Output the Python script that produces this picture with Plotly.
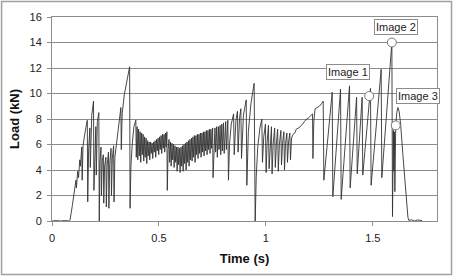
import plotly.graph_objects as go

# ---- data ----
time_s = [
    0, 0.02, 0.04, 0.06, 0.08, 0.084,
    0.095, 0.105, 0.112, 0.114, 0.12, 0.124, 0.13, 0.133, 0.139, 0.141, 0.145, 0.155, 0.165, 0.167,
    0.171, 0.177, 0.179, 0.186, 0.194, 0.196, 0.2, 0.205, 0.207, 0.212, 0.219, 0.221,
    0.224, 0.229, 0.231, 0.235, 0.24, 0.242, 0.246, 0.252, 0.254, 0.258, 0.264, 0.266, 0.27, 0.276,
    0.278, 0.282, 0.288, 0.29, 0.294, 0.305, 0.315, 0.322, 0.324, 0.328, 0.338, 0.35, 0.363, 0.365, 0.369,
    0.375, 0.383, 0.392, 0.394, 0.398, 0.401, 0.405, 0.408, 0.412, 0.415, 0.419, 0.422, 0.426, 0.429,
    0.433, 0.436, 0.44, 0.443, 0.447, 0.45, 0.454, 0.457, 0.461, 0.464, 0.468, 0.471, 0.475, 0.478,
    0.482, 0.485, 0.489, 0.492, 0.496, 0.499, 0.503, 0.506, 0.51, 0.513, 0.517, 0.52, 0.524, 0.527,
    0.531, 0.534, 0.537, 0.539,
    0.543, 0.547, 0.55, 0.554, 0.557, 0.561, 0.564, 0.568, 0.571, 0.575, 0.578, 0.582, 0.585, 0.589,
    0.592, 0.596, 0.599, 0.603, 0.606, 0.61, 0.613, 0.617, 0.62, 0.624, 0.627, 0.631, 0.634, 0.638,
    0.641, 0.645, 0.648,
    0.652, 0.655, 0.659, 0.662, 0.666, 0.669, 0.673, 0.676, 0.68, 0.683, 0.687, 0.69, 0.694, 0.697,
    0.701, 0.704, 0.708, 0.711, 0.715, 0.718, 0.722, 0.725, 0.729, 0.732, 0.736, 0.739, 0.743, 0.746,
    0.751, 0.753, 0.757, 0.762, 0.765, 0.77, 0.773, 0.778, 0.781, 0.786, 0.789, 0.794, 0.797, 0.802,
    0.805, 0.812, 0.815, 0.822, 0.825,
    0.83, 0.838, 0.849, 0.852, 0.86, 0.867, 0.87, 0.877, 0.883, 0.886, 0.895, 0.908, 0.911, 0.918,
    0.93, 0.945, 0.95,
    0.955, 0.962, 0.972, 0.981, 0.984, 0.99, 0.998, 1.001, 1.006, 1.012, 1.015, 1.02, 1.026, 1.029,
    1.034, 1.041, 1.044, 1.049, 1.055, 1.058, 1.063, 1.07, 1.073, 1.078, 1.084, 1.087, 1.092, 1.098,
    1.101, 1.106, 1.112, 1.115, 1.12, 1.127,
    1.135, 1.142, 1.15, 1.158, 1.165, 1.172, 1.18, 1.19, 1.2, 1.212, 1.218, 1.22, 1.224, 1.23, 1.24,
    1.25, 1.26, 1.268, 1.271,
    1.31, 1.313, 1.349, 1.352, 1.391, 1.394, 1.424, 1.427, 1.45, 1.453, 1.483, 1.489, 1.492,
    1.539, 1.542, 1.589, 1.592, 1.596, 1.598, 1.601, 1.603, 1.607, 1.612, 1.617, 1.623, 1.63, 1.64,
    1.65, 1.658, 1.664, 1.668, 1.68, 1.695, 1.71, 1.73,
]
load_kn = [
    0, 0.03, 0, 0.03, 0, 0.05,
    1.2, 2.3, 3.2, 2.6, 3.9, 3.4, 4.8, 4.3, 5.8, 3.2, 5.9, 7.0, 7.9, 1.5,
    5.5, 7.3, 4.2, 8.3, 9.4, 2.4, 5.8, 7.4, 3.6, 7.8, 8.5, 0.0,
    4.6, 5.8, 2.0, 4.7, 5.2, 1.4, 4.3, 5.0, 1.1, 4.4, 5.4, 1.0, 4.5, 5.7,
    2.0, 4.9, 5.9, 1.5, 5.0, 6.5, 7.9, 8.9, 5.6, 8.4, 9.9, 11.0, 12.1, 1.0, 4.3,
    6.0, 7.4, 7.9, 5.0, 7.4, 4.8, 7.2, 5.1, 7.0, 4.6, 6.9, 5.2, 6.8, 4.7,
    6.6, 5.0, 6.5, 4.5, 6.3, 5.1, 6.2, 4.8, 6.2, 5.3, 6.1, 4.9, 6.2, 5.4,
    6.3, 5.0, 6.4, 5.5, 6.5, 5.2, 6.6, 5.6, 6.7, 5.3, 6.8, 5.7, 6.8, 5.4,
    6.9, 5.8, 7.0, 2.4,
    5.6, 6.4, 4.6, 6.2, 4.3, 6.1, 4.8, 6.0, 4.2, 5.9, 4.6, 5.8, 3.9, 5.8,
    4.4, 5.7, 3.8, 5.8, 4.3, 5.9, 3.9, 6.0, 4.5, 6.1, 4.0, 6.2, 4.6, 6.3,
    4.3, 6.4, 4.8,
    6.5, 4.7, 6.6, 5.0, 6.7, 4.6, 6.7, 5.2, 6.8, 4.9, 6.8, 5.3, 6.9, 5.0,
    6.9, 5.4, 7.0, 5.1, 7.0, 5.5, 7.1, 5.2, 7.1, 5.6, 7.2, 5.3, 7.2, 5.7,
    7.3, 3.4, 6.2, 7.3, 5.4, 7.4, 5.0, 7.4, 5.6, 7.5, 5.2, 7.6, 5.5, 7.7,
    5.3, 7.8, 5.6, 7.9, 3.2,
    6.0, 7.6, 8.4, 5.2, 7.9, 8.6, 5.4, 8.1, 8.8, 4.9, 8.3, 9.5, 2.8, 7.0,
    9.2, 10.8, 0.0,
    3.5, 5.8, 7.3, 8.0, 4.6, 6.6, 7.6, 3.8, 6.2, 7.5, 4.1, 6.1, 7.4, 3.7,
    6.0, 7.3, 4.2, 6.0, 7.2, 3.9, 6.0, 7.1, 4.4, 6.1, 7.0, 4.0, 6.1, 6.9,
    4.6, 6.2, 6.9, 4.8, 6.5, 6.8,
    6.9, 7.2, 7.25, 7.35, 7.5, 7.6, 7.8, 8.0, 8.1, 8.3, 8.4, 4.9, 7.8, 8.8, 8.9,
    9.0, 9.2, 9.4, 3.2,
    10.1, 1.9, 10.35, 1.7, 10.6, 2.6, 9.7, 3.7, 9.7, 3.6, 9.8, 10.4, 2.8,
    11.9, 3.4, 14.0, 0.35, 7.1, 3.9, 7.0, 2.3, 7.5, 8.5, 8.9, 8.6, 7.6, 5.3,
    3.0, 1.4, 0.3, 0.05, 0.1, 0.0, 0.08, 0.03,
]

marker_time = [1.483, 1.589, 1.607]
marker_load = [9.8, 14.0, 7.5]
label_text = ["Image 1", "Image 2", "Image 3"]
label_time = [1.386, 1.609, 1.712]
label_load = [11.65, 15.2, 9.8]

x_ticks = [0, 0.5, 1, 1.5]
y_ticks = [0, 2, 4, 6, 8, 10, 12, 14, 16]

FONT = "Liberation Sans, Arial, sans-serif"
GRID = "#8c8c8c"

fig = go.Figure()
fig.add_trace(go.Scatter(
    x=time_s, y=load_kn, mode="lines",
    line=dict(color="#333333", width=0.9), showlegend=False, hoverinfo="skip",
))
fig.add_trace(go.Scatter(
    x=marker_time, y=marker_load, mode="markers",
    marker=dict(size=9, color="white", line=dict(color="#777777", width=1)),
    showlegend=False,
))

for txt, tx, ty in zip(label_text, label_time, label_load):
    fig.add_annotation(
        x=tx, y=ty, text=txt, showarrow=False,
        font=dict(family=FONT, size=11, color="#222222"),
        bgcolor="white", bordercolor="#8c8c8c", borderwidth=1, borderpad=1,
    )

# outer picture frame
fig.add_shape(type="rect", xref="paper", yref="paper",
              x0=-0.131, x1=1.0377, y0=-0.262, y1=1.076,
              line=dict(color="#a0a0a0", width=1.5))

fig.update_layout(
    width=455, height=276,
    margin=dict(l=52, r=18, t=17, b=55),
    paper_bgcolor="white", plot_bgcolor="white",
    font=dict(family=FONT, size=11, color="#222222"),
)
fig.update_xaxes(
    range=[0, 1.8], tickvals=x_ticks, ticktext=["0", "0.5", "1", "1.5"],
    showgrid=False, zeroline=False,
    showline=True, linecolor=GRID, linewidth=1, mirror=True,
    ticks="outside", ticklen=4, tickcolor=GRID, ticklabelstandoff=3,
    title=dict(text="<b>Time (s)</b>", font=dict(family=FONT, size=13, color="#111111"), standoff=10),
    automargin=False,
)
fig.update_yaxes(
    range=[0, 16], tickvals=y_ticks,
    showgrid=True, gridcolor=GRID, gridwidth=1, zeroline=False,
    showline=True, linecolor=GRID, linewidth=1, mirror=True,
    ticks="outside", ticklen=4, tickcolor=GRID, ticklabelstandoff=3,
    title=dict(text="<b>Load (kN)</b>", font=dict(family=FONT, size=13, color="#111111"), standoff=6),
    automargin=False,
)

fig.write_html("out.html")
